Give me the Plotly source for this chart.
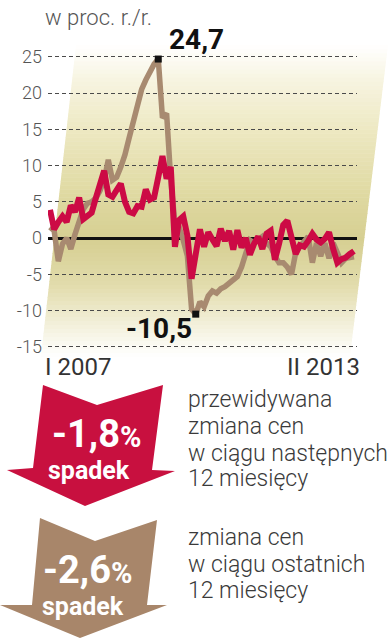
import plotly.graph_objects as go

# ---------------- data ----------------
months = list(range(74))  # I 2007 ... II 2013
forecast = [3.9, 1.2, 2.2, 3.0, 2.2, 4.5, 3.6, 5.6, 2.6, 3.0,
            3.5, 5.5, 7.5, 9.3, 6.0, 5.7, 6.6, 7.5, 5.0, 3.6,
            3.4, 4.4, 4.3, 6.7, 5.3, 5.6, 8.4, 11.3, 8.2, 9.8,
            -1.2, 2.5, 3.0, 0.3, -5.6, -1.8, 1.2, -1.2, 0.8, -0.2,
            -1.1, 1.3, -0.4, 1.0, -1.6, 1.1, -1.3, 0.0, -2.3, -0.8,
            0.2, -1.5, 0.6, 1.0, -3.0, -0.8, 1.8, 2.4, -0.2, -2.2,
            -1.0, -1.2, -0.4, 0.6, -0.2, -0.6, -0.1, 0.8, -1.5, -3.4,
            -2.9, -2.7, -2.2, -1.8]
actual = [1.5, 1.0, -3.2, -0.8, 0.0, -1.5, 0.5, 2.5, 4.0, 4.8,
          5.0, 5.5, 6.5, 8.0, 10.8, 8.0, 8.4, 9.8, 11.5, 13.8,
          16.0, 18.3, 20.5, 21.8, 23.0, 24.0, 24.7, 16.6, 17.2, 8.0,
          2.0, 1.5, -0.3, -2.5, -9.8, -10.5, -8.8, -9.5, -8.0, -7.3,
          -7.6, -7.0, -6.7, -6.2, -5.7, -5.3, -4.0, -1.8, -0.3, -0.7,
          -0.3, 0.2, -0.7, -1.2, -2.5, -3.4, -3.4, -4.0, -5.0, -2.0,
          -1.2, -0.5, 0.2, -3.4, -0.7, -2.5, -0.7, -2.8, -0.7, -2.0,
          -3.4, -2.8, -2.7, -2.6]
y_ticks = [-15, -10, -5, 0, 5, 10, 15, 20, 25]
y_ticktext = ["-15", "-10", "-5", "0", "5", "10", "15", "20", "25"]
x_labels = ["I 2007", "II 2013"]
unit_label = "w proc. r./r."
forecast_text = ["przewidywana", "zmiana cen", "w ciągu następnych", "12 miesięcy"]
actual_text = ["zmiana cen", "w ciągu ostatnich", "12 miesięcy"]
word_down = "spadek"

RED = "#cc0a45"
RED_ARROW = "#c8103f"
BROWN = "#a88a70"
BROWN_ARROW = "#a8866a"

W, H = 389, 640
L, R_EDGE, T, B_EDGE = 48, 357, 45.8, 353.95


def fx(px):
    return (px - L) / (R_EDGE - L)


def fy(py):
    return (B_EDGE - py) / (B_EDGE - T)


def path(points):
    return "M " + " L ".join(f"{fx(x):.5f},{fy(y):.5f}" for x, y in points) + " Z"


def fmt(v):
    return f"{v:.1f}".replace(".", ",")


shapes = []
# background gradient band (parallelogram), drawn as thin strips
stops = [(45, (255, 255, 255)), (80, (247, 244, 224)), (130, (237, 232, 194)),
         (190, (224, 218, 163)), (240, (214, 207, 146)), (285, (226, 220, 172)),
         (325, (243, 240, 219)), (356, (255, 255, 255))]


def col_at(y):
    for (y0, c0), (y1, c1) in zip(stops[:-1], stops[1:]):
        if y0 <= y <= y1:
            t = (y - y0) / (y1 - y0)
            return tuple(round(a + (b - a) * t) for a, b in zip(c0, c1))
    return (255, 255, 255)


def left_edge(y):
    return 76 + (41 - 76) * (y - 45) / (356 - 45)


def right_edge(y):
    return 388 + (350 - 388) * (y - 45) / (356 - 45)


y = 45.0
step = 4.0
while y < 356:
    y2 = min(y + step, 356)
    c = col_at((y + y2) / 2)
    pts = [(left_edge(y), y), (right_edge(y), y), (right_edge(y2 + 0.6), y2 + 0.6), (left_edge(y2 + 0.6), y2 + 0.6)]
    shapes.append(dict(type="path", path=path(pts), xref="paper", yref="paper",
                       fillcolor=f"rgb{c}", line=dict(width=0), layer="below"))
    y = y2

# arrows
red_arrow = [(43, 385), (97, 405), (163, 385), (152, 470), (175, 471), (85, 506), (7, 470), (33, 468)]
brown_arrow = [(40, 518), (95, 541), (157, 520), (147, 605), (167, 605), (80, 638), (0, 605), (32, 605)]
shapes.append(dict(type="path", path=path(red_arrow), xref="paper", yref="paper",
                   fillcolor=RED_ARROW, line=dict(width=0)))
shapes.append(dict(type="path", path=path(brown_arrow), xref="paper", yref="paper",
                   fillcolor=BROWN_ARROW, line=dict(width=0)))

fig = go.Figure()
fig.add_trace(go.Scatter(x=months, y=actual, mode="lines",
                         line=dict(color=BROWN, width=5.5), hoverinfo="skip", showlegend=False))
fig.add_trace(go.Scatter(x=months, y=forecast, mode="lines",
                         line=dict(color=RED, width=6), hoverinfo="skip", showlegend=False))

imax = max(range(len(actual)), key=lambda i: actual[i])
imin = min(range(len(actual)), key=lambda i: actual[i])
fig.add_trace(go.Scatter(x=[imax, imin], y=[actual[imax], actual[imin]], mode="markers",
                         marker=dict(symbol="square", size=7, color="#111"),
                         cliponaxis=False, hoverinfo="skip", showlegend=False))

LIGHT = "Roboto"
ann = []
ann.append(dict(x=imax, y=actual[imax], xref="x", yref="y", text=fmt(actual[imax]),
                showarrow=False, xanchor="left", yanchor="middle", xshift=9, yshift=20,
                font=dict(family=LIGHT, size=28, color="#111", weight="bold")))
ann.append(dict(x=imin, y=actual[imin], xref="x", yref="y", text=fmt(actual[imin]),
                showarrow=False, xanchor="right", yanchor="middle", xshift=-2, yshift=-14,
                font=dict(family=LIGHT, size=28, color="#111", weight="bold")))
ann.append(dict(x=fx(43), y=fy(17), xref="paper", yref="paper", text=unit_label,
                showarrow=False, xanchor="left", yanchor="middle",
                font=dict(family=LIGHT, size=22, color="#555", weight=300)))
ann.append(dict(x=fx(43), y=fy(367), xref="paper", yref="paper", text=x_labels[0],
                showarrow=False, xanchor="left", yanchor="middle",
                font=dict(family=LIGHT, size=24, color="#333")))
ann.append(dict(x=fx(362), y=fy(367), xref="paper", yref="paper", text=x_labels[1],
                showarrow=False, xanchor="right", yanchor="middle",
                font=dict(family=LIGHT, size=24, color="#333")))

# arrow labels
ann.append(dict(x=fx(96), y=fy(434), xref="paper", yref="paper",
                text=fmt(forecast[-1]) + "<span style='font-size:29px'>%</span>",
                showarrow=False, xanchor="center", yanchor="middle",
                font=dict(family=LIGHT, size=38, color="white", weight="bold")))
ann.append(dict(x=fx(89), y=fy(471), xref="paper", yref="paper", text=word_down,
                showarrow=False, xanchor="center", yanchor="middle",
                font=dict(family=LIGHT, size=25, color="white", weight="bold")))
ann.append(dict(x=fx(87), y=fy(570), xref="paper", yref="paper",
                text=fmt(actual[-1]) + "<span style='font-size:29px'>%</span>",
                showarrow=False, xanchor="center", yanchor="middle",
                font=dict(family=LIGHT, size=38, color="white", weight="bold")))
ann.append(dict(x=fx(83), y=fy(607), xref="paper", yref="paper", text=word_down,
                showarrow=False, xanchor="center", yanchor="middle",
                font=dict(family=LIGHT, size=25, color="white", weight="bold")))

for txt, yc in zip(forecast_text, [399, 426, 453, 479]):
    ann.append(dict(x=fx(186), y=fy(yc), xref="paper", yref="paper", text=txt,
                    showarrow=False, xanchor="left", yanchor="middle",
                    font=dict(family=LIGHT, size=23, color="#3a3a3a", weight=300)))
for txt, yc in zip(actual_text, [538, 565, 591]):
    ann.append(dict(x=fx(186), y=fy(yc), xref="paper", yref="paper", text=txt,
                    showarrow=False, xanchor="left", yanchor="middle",
                    font=dict(family=LIGHT, size=23, color="#3a3a3a", weight=300)))

fig.update_layout(
    width=W, height=H,
    margin=dict(l=L, r=W - R_EDGE, t=T, b=H - B_EDGE, pad=0),
    paper_bgcolor="white", plot_bgcolor="rgba(0,0,0,0)",
    shapes=shapes, annotations=ann, showlegend=False,
    xaxis=dict(range=[-0.48, 73.72], showgrid=False, zeroline=False, showticklabels=False,
               ticks="", showline=False, fixedrange=True),
    yaxis=dict(range=[-16, 26.5], tickvals=y_ticks, ticktext=y_ticktext,
               showgrid=True, gridcolor="#4a4a4a", gridwidth=1, griddash="4px,3px",
               zeroline=True, zerolinecolor="#111", zerolinewidth=3,
               ticks="", showline=False, ticklabelstandoff=5,
               tickfont=dict(family=LIGHT, size=18, color="#555", weight=300), fixedrange=True),
)

fig.write_html("out.html", config={"displayModeBar": False},
               post_script="document.body.style.margin='0px';document.body.style.overflow='hidden';")
